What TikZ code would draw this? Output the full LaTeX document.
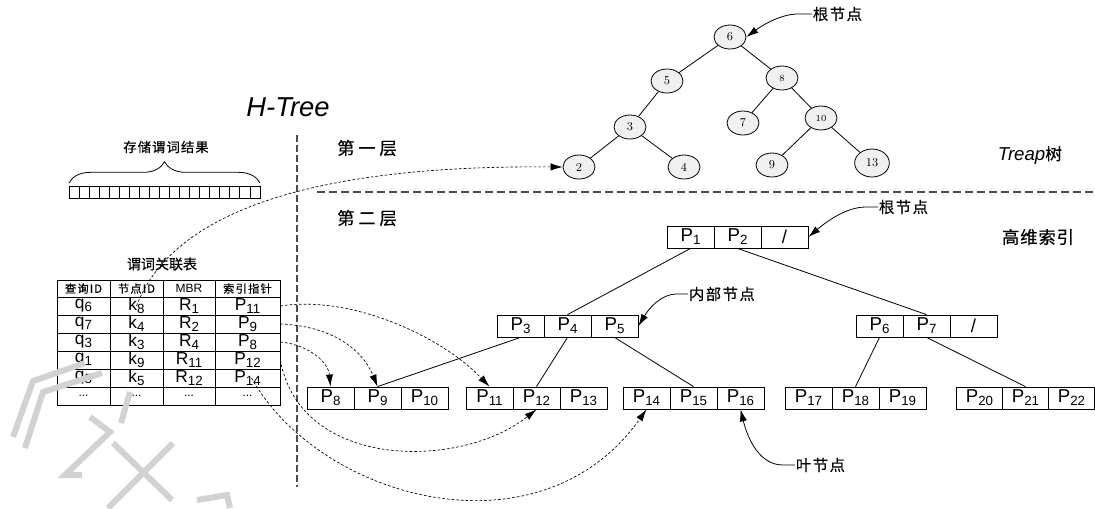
\documentclass[tikz,border=0pt]{standalone}
\usepackage{fontspec}
\newfontfamily\cjk[FakeBold=0.4]{Noto Sans CJK SC}
\newfontfamily\arial{Liberation Sans}
\usetikzlibrary{shapes.geometric,arrows.meta,decorations.pathreplacing}

\newcommand\fsz[1]{\fontsize{#1}{#1}\selectfont}
\newcommand\lowidx[1]{\raisebox{-0.3ex}{\fsz{10}#1}}
\newcommand\Pc[1]{P\lowidx{#1}}
\newcommand\spaced[2]{{\addfontfeature{LetterSpace=#1}#2}}

\begin{document}
\begin{tikzpicture}[x=0.75pt,y=-0.75pt,
  tipA/.tip={Latex[length=9pt,width=5.5pt]},
  cellbox/.style={draw, line width=0.6pt, minimum width=35.25pt, minimum height=16.5pt,
                  inner sep=0pt, font=\arial\fsz{14}},
  tnode/.style={ellipse, draw, line width=0.6pt, fill=gray!12, minimum width=24pt,
                minimum height=18pt, inner sep=0pt, font=\fsz{9}},
  tcell/.style={draw, line width=0.6pt, minimum height=13.5pt, inner sep=0pt, font=\arial\fsz{13}},
  thead/.style={tcell, minimum height=12.75pt, font=\cjk\fsz{8.5}},
  edge/.style={line width=0.6pt},
  link/.style={line width=0.5pt, dash pattern=on 2pt off 1.5pt, -tipA},
  pointer/.style={line width=0.6pt, -tipA},
  lbl/.style={inner sep=0.5pt, font=\cjk\fsz{11.5}},
  title/.style={font=\cjk\fsz{13}},
  vdiv/.style={line width=1pt, gray!60!black, dash pattern=on 5pt off 2.5pt},
  hdiv/.style={line width=0.8pt, gray!60!black, dash pattern=on 6pt off 3pt},
  ghost/.style={line width=4.5pt, gray!35}
]
\fill[white] (0,0) rectangle (1095,508);
\useasboundingbox (0,0) rectangle (1095,508);

% ---------- first layer: treap ----------
\node[tnode] (t6)  at (730,37)  {6};
\node[tnode] (t5)  at (667,81)  {5};
\node[tnode] (t8)  at (782,78)  {\fsz{7}8};
\node[tnode] (t3)  at (630,127) {3};
\node[tnode] (t7)  at (743,123) {7};
\node[tnode] (t10) at (821,118) {\fsz{7}10};
\node[tnode] (t2)  at (579,167) {2};
\node[tnode] (t4)  at (684,167) {4};
\node[tnode] (t9)  at (772,165) {9};
\node[tnode, minimum width=26pt, minimum height=21pt] (t13) at (872,163) {13};

\draw[edge] (t6) -- (t5);
\draw[edge] (t6) -- (t8);
\draw[edge] (t5) -- (t3);
\draw[edge] (t3) -- (t2);
\draw[edge] (t3) -- (t4);
\draw[edge] (t8) -- (t7);
\draw[edge] (t8) -- (t10);
\draw[edge] (t10) -- (t9);
\draw[edge] (t10) -- (t13);

\node[lbl, anchor=west] (treeroot) at (812,14) {\spaced{10}{根节点}};
\draw[pointer] (treeroot.west) -- (798,14) .. controls (782,14) and (764,24) .. (t6.east);

\node[anchor=center] (treaplbl) at (1030,155) {\arial\itshape\fsz{14}Treap\upshape\cjk\fsz{12.5}树};

% ---------- layer titles and dividers ----------
\node[font=\arial\itshape\fsz{20.5}] (htree) at (288,107) {H-Tree};
\node[title] (layer1) at (367,148) {\spaced{22}{第一层}};
\node[title] (layer2) at (367,218) {\spaced{22}{第二层}};
\node[title] (hdidx) at (1038,237) {\spaced{5}{高维索引}};

\draw[vdiv] (297,135) -- (297,487);
\draw[hdiv] (317,192) -- (1095,192);

% ---------- predicate result store ----------
\node[font=\cjk\fsz{10}] (storelbl) at (166,147) {\spaced{8}{存储谓词结果}};
\draw[line width=0.6pt, decorate, decoration={brace, amplitude=16pt}] (69,183) -- (260,183);
\draw[line width=0.6pt] (69,186) rectangle (260,198);
\foreach \i in {1,...,18} \draw[line width=0.6pt] ({69+\i*191/19},186) -- ({69+\i*191/19},198);

% ---------- predicate association table ----------
\node[font=\cjk\fsz{10.5}] (tablelbl) at (162,264) {谓词关联表};
\node[thead, minimum width=39.75pt] (h1) at (83.5,288.5)  {\spaced{10}{查询ID}};
\node[thead, minimum width=39.75pt] (h2) at (136.5,288.5) {\spaced{10}{节点ID}};
\node[thead, minimum width=39pt]    (h3) at (189,288.5)   {\arial\fsz{9}MBR};
\node[thead, minimum width=48.75pt] (h4) at (247.5,288.5) {\spaced{10}{索引指针}};
\foreach \r/\y/\a/\b/\c/\d in {
    1/306/q\lowidx{6}/k\lowidx{8}/R\lowidx{1}/P\lowidx{11},
    2/324/q\lowidx{7}/k\lowidx{4}/R\lowidx{2}/P\lowidx{9},
    3/342/q\lowidx{3}/k\lowidx{3}/R\lowidx{4}/P\lowidx{8},
    4/360/q\lowidx{1}/k\lowidx{9}/R\lowidx{11}/P\lowidx{12},
    5/378/q\lowidx{5}/k\lowidx{5}/R\lowidx{12}/P\lowidx{14},
    6/396/{\fsz{9}...}/{\fsz{9}...}/{\fsz{9}...}/{\fsz{9}...}} {
  \node[tcell, minimum width=39.75pt] (q\r)   at (83.5,\y)  {\a};
  \node[tcell, minimum width=39.75pt] (k\r)   at (136.5,\y) {\b};
  \node[tcell, minimum width=39pt]    (m\r)   at (189,\y)   {\c};
  \node[tcell, minimum width=48.75pt] (ptr\r) at (247.5,\y) {\d};
}

% ---------- second layer: high-dimensional index ----------
\node[cellbox] (p1)  at (690.5,237) {\Pc{1}};
\node[cellbox] (p2)  at (737.5,237) {\Pc{2}};
\node[cellbox] (s1)  at (784.5,237) {/};

\node[cellbox] (p3)  at (520.5,326) {\Pc{3}};
\node[cellbox] (p4)  at (567.5,326) {\Pc{4}};
\node[cellbox] (p5)  at (614.5,326) {\Pc{5}};

\node[cellbox] (p6)  at (879.5,326) {\Pc{6}};
\node[cellbox] (p7)  at (926.5,326) {\Pc{7}};
\node[cellbox] (s2)  at (973.5,326) {/};

\node[cellbox] (p8)  at (330.5,398) {\Pc{8}};
\node[cellbox] (p9)  at (377.5,398) {\Pc{9}};
\node[cellbox] (p10) at (424.5,398) {\Pc{10}};
\node[cellbox] (p11) at (489.5,398) {\Pc{11}};
\node[cellbox] (p12) at (536.5,398) {\Pc{12}};
\node[cellbox] (p13) at (583.5,398) {\Pc{13}};
\node[cellbox] (p14) at (646.5,398) {\Pc{14}};
\node[cellbox] (p15) at (693.5,398) {\Pc{15}};
\node[cellbox] (p16) at (740.5,398) {\Pc{16}};
\node[cellbox] (p17) at (808.5,398) {\Pc{17}};
\node[cellbox] (p18) at (855.5,398) {\Pc{18}};
\node[cellbox] (p19) at (902.5,398) {\Pc{19}};
\node[cellbox, minimum width=34.5pt] (p20) at (979.5,398)  {\Pc{20}};
\node[cellbox, minimum width=34.5pt] (p21) at (1025.5,398) {\Pc{21}};
\node[cellbox, minimum width=34.5pt] (p22) at (1071.5,398) {\Pc{22}};

\draw[edge] (p1.south) -- (p4.north);
\draw[edge] (p2.south) -- (p7.north);
\draw[edge] (p3.south) -- (p9.north);
\draw[edge] (p4.south) -- (p12.north);
\draw[edge] (p5.south) -- (p15.north);
\draw[edge] (p6.south) -- (p18.north);
\draw[edge] (p7.south) -- (p21.north);

\node[lbl, anchor=west] (idxroot) at (878,207) {\spaced{10}{根节点}};
\draw[pointer] (idxroot.west) -- (866,207) .. controls (846,207) and (826,222) .. (s1.east);
\node[lbl, anchor=west] (innerlbl) at (688,294) {\spaced{10}{内部节点}};
\draw[pointer] (innerlbl.west) -- (677,294) .. controls (660,294) and (648,310) .. (p5.east);
\node[lbl, anchor=west] (leaflbl) at (795,465) {\spaced{10}{叶节点}};
\draw[pointer] (leaflbl.west) -- (783,465) .. controls (760,465) and (748,440) .. (p16.south);

% ---------- links from the table into both layers ----------
\draw[link] (k1.center) .. controls (175,205) and (330,165) .. (t2.west);
\draw[link] (ptr1.east) .. controls (350,295) and (440,335) .. (p11.north);
\draw[link] (ptr2.east) .. controls (330,326) and (362,348) .. (p9.north);
\draw[link] (ptr3.east) .. controls (305,344) and (328,360) .. (p8.north);
\draw[link] (ptr4.east) .. controls (300,470) and (460,470) .. (p12.south);
\draw[link] ([xshift=3pt]ptr5.center) .. controls (320,500) and (540,560) .. (p14.south);

% ---------- faint grey strokes in the lower left corner ----------
\draw[ghost] (13,437) -- (33,381) -- (85,363);
\draw[ghost] (25,448) -- (43,392) -- (102,373);
\draw[ghost] (130,392) -- (121,423);
\draw[ghost] (90,417) -- (110,432) -- (65,475) -- (82,475);
\draw[ghost] (113,443) -- (172,500);
\draw[ghost] (173,443) -- (108,508);
\draw[ghost] (197,500) -- (227,495) -- (230,508);
\end{tikzpicture}
\end{document}
